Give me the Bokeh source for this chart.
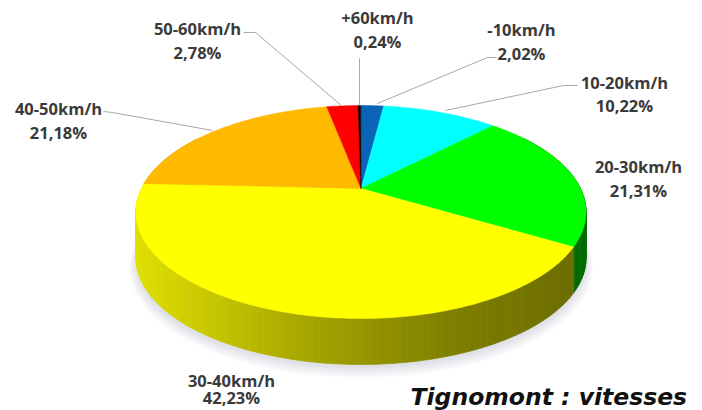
import numpy as np
from bokeh.core.properties import value
from bokeh.embed import file_html
from bokeh.models import Range1d
from bokeh.plotting import figure
from bokeh.resources import INLINE

# Data, clockwise from 12 o'clock
categories = ["-10km/h", "10-20km/h", "20-30km/h", "30-40km/h", "40-50km/h", "50-60km/h", "+60km/h"]
shares = [2.02, 10.22, 21.31, 42.23, 21.18, 2.78, 0.24]
slice_colors = ["#0A64B8", "#00FFFF", "#00FF00", "#FFFF00", "#FFB900", "#FF0000", "#0A0000"]
side_base = ["#0A64B8", "#00C8C8", "#00FF00", "#FFFF00", "#FFB900", "#FF0000", "#0A0000"]

# Layout (page pixels)
label_cx = [521, 624, 638, 231, 58, 197, 377]
label_y1 = [29, 82, 166, 380, 108, 28, 17]
label_y2 = [53, 105, 190, 397, 132, 52, 41]
leader_xs = [[496, 487, 377], [577, 563, 445], [], [], [103, 112, 212], [243, 255, 341], [359, 359, 359]]
leader_ys = [[57, 57, 103], [85, 85, 110], [], [], [111, 112, 130], [32, 32, 105], [58, 80, 105]]

# Projection of the tilted disc
CX, CY = 360.5, 188
R, S, TILT, DEPTH = 219.5, 101.3, 0.2207, 46


def project(theta, dy=0.0, grow=1.0):
    u, v = np.sin(theta) * grow, np.cos(theta) * grow
    w = 1 + TILT * v
    return CX + R * u / w, CY - S * v / w + dy


def shade(f):
    # brightness of the rim from left (f=0) to right (f=1)
    return float(np.interp(f, [0, 0.1, 0.4, 0.7, 1], [0.88, 0.82, 0.64, 0.50, 0.42]))


p = figure(width=702, height=410, x_range=Range1d(0, 702), y_range=Range1d(410, 0),
           toolbar_location=None, output_backend="svg", min_border=0,
           outline_line_color=None, background_fill_color="#FFFFFF")
p.axis.visible = False
p.grid.visible = False

# Soft shadow below the disc
full = np.linspace(0, 2 * np.pi, 241)
for i in range(8):
    x, y = project(full, DEPTH + 3 + i * 0.8, 1.0 + i * 0.004)
    p.patch(x, y, fill_color="#9090B0", fill_alpha=0.035, line_color=None)

# Rim, in small segments
edges = np.cumsum([0] + shares) / 100 * 2 * np.pi
seg_x, seg_y, seg_c = [], [], []
for k in range(len(shares)):
    a0, a1 = edges[k], edges[k + 1]
    n = max(2, int((a1 - a0) / np.radians(1.5)))
    t = np.linspace(a0, a1, n + 1)
    base = side_base[k]
    r, g, b = [int(base[j:j + 2], 16) for j in (1, 3, 5)]
    for t0, t1 in zip(t[:-1], t[1:]):
        if np.cos((t0 + t1) / 2) > 0.55:
            continue
        xa, ya = project(np.array([t0, t1]))
        xb, yb = project(np.array([t1, t0]), DEPTH)
        f = ((xa.mean() - CX) / 225 + 1) / 2
        s = shade(f)
        c = "#%02X%02X%02X" % (int(r * s), int(g * s), int(b * s))
        seg_x.append(list(xa) + list(xb))
        seg_y.append(list(ya) + list(yb))
        seg_c.append(c)
p.patches(seg_x, seg_y, fill_color=seg_c, line_color=seg_c, line_width=0.7)

# Top face
top_x, top_y = [], []
for k in range(len(shares)):
    n = max(4, int((edges[k + 1] - edges[k]) / np.radians(1)))
    x, y = project(np.linspace(edges[k], edges[k + 1], n + 1))
    top_x.append([CX] + list(x))
    top_y.append([CY] + list(y))
p.patches(top_x, top_y, fill_color=slice_colors, line_color=slice_colors, line_width=0.5)

# Leaders
xs = [a for a in leader_xs if a]
ys = [a for a in leader_ys if a]
p.multi_line(xs, ys, line_color="#A8A8A8", line_width=1)

# Labels
pct = [f"{v:.2f}%".replace(".", ",") for v in shares]
p.text(label_cx + label_cx, label_y1 + label_y2, text=categories + pct,
       text_font=value("Open Sans"), text_font_size="16.5px", text_font_style="bold",
       text_color="#3A3A3A", text_align="center", text_baseline="middle")
p.text([410], [396], text=["Tignomont : vitesses"], text_font=value("DejaVu Sans"),
       text_font_size="23.5px", text_font_style="bold italic", text_color="#111111",
       text_align="left", text_baseline="middle")

open("out.html", "w").write(file_html(p, INLINE))
